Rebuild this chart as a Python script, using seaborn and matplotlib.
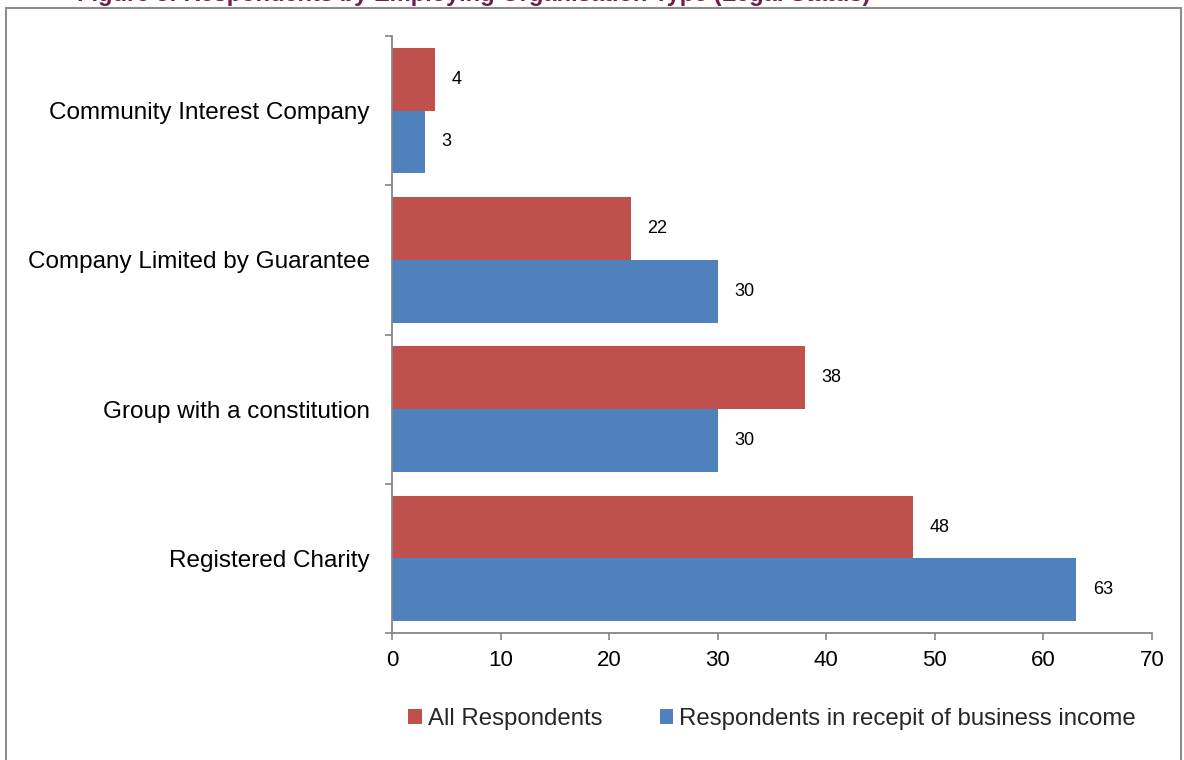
import matplotlib
matplotlib.use("Agg")
import matplotlib.pyplot as plt
from matplotlib.patches import Rectangle
import seaborn as sns
import pandas as pd

# Data
categories = [
    "Community Interest Company",
    "Company Limited by Guarantee",
    "Group with a constitution",
    "Registered Charity",
]
series_names = ["All Respondents", "Respondents in recepit of business income"]
all_respondents = [4, 22, 38, 48]
business_income = [3, 30, 30, 63]
x_ticks = [0, 10, 20, 30, 40, 50, 60, 70]
colors = ["#C0504D", "#4F81BD"]
title = "Figure 5: Respondents by Employing Organisation Type (Legal Status)"

sns.set_theme(style="white")
plt.rcParams["font.family"] = ["Liberation Sans", "DejaVu Sans"]

df = pd.DataFrame({
    "Legal status": categories * 2,
    "Series": [series_names[0]] * len(categories) + [series_names[1]] * len(categories),
    "Respondents": all_respondents + business_income,
})

W, H = 1184, 760
fig = plt.figure(figsize=(W / 100, H / 100), dpi=100)
ax = fig.add_axes([392 / W, 1 - 633 / H, (1152 - 392) / W, (633 - 36) / H])

sns.barplot(
    data=df, y="Legal status", x="Respondents", hue="Series",
    order=categories, hue_order=series_names, palette=colors,
    width=0.84, orient="h", saturation=1, errorbar=None,
    linewidth=0, ax=ax,
)

# Value labels
for container in ax.containers:
    ax.bar_label(container, fmt="%g", padding=12, fontsize=13, color="black")

# Axes styling
grey = "#868686"
ax.set_xlim(0, 70)
ax.set_xticks(x_ticks)
ax.set_ylim(3.5, -0.5)
ax.set_xlabel("")
ax.set_ylabel("")
for side in ("top", "right"):
    ax.spines[side].set_visible(False)
for side in ("left", "bottom"):
    ax.spines[side].set_color(grey)
    ax.spines[side].set_linewidth(1.3)

ax.tick_params(axis="x", which="major", direction="out", length=5, width=1.2,
               color=grey, labelsize=16, pad=7, labelcolor="black", bottom=True)
ax.tick_params(axis="y", which="major", length=0, labelsize=17.5, pad=16,
               labelcolor="black", left=True)
ax.set_yticks([-0.5, 0.5, 1.5, 2.5, 3.5], minor=True)
ax.tick_params(axis="y", which="minor", direction="out", length=5, width=1.2,
               color=grey, left=True)

# Legend below the plot
handles, labels = ax.get_legend_handles_labels()
if ax.legend_ is not None:
    ax.legend_.remove()
fig.legend(handles, labels, loc="center", bbox_to_anchor=(772 / W, 1 - 719 / H),
           ncol=2, frameon=False, fontsize=17.3, handlelength=0.55,
           handleheight=0.55, handletextpad=0.25, columnspacing=2.4)

# Chart frame and title (title sits above the frame, running off the top edge)
fig.patches.append(Rectangle((6 / W, -0.1), (1181 - 6) / W, 1.1 - 8 / H,
                             transform=fig.transFigure, fill=False,
                             edgecolor="#8C8C8C", linewidth=1.5))
fig.text(870 / W, 1 - 1.5 / H, title, ha="right", va="baseline", fontsize=17,
         fontweight="bold", color="#6F1D4B")

fig.savefig("out.png", dpi=100)
